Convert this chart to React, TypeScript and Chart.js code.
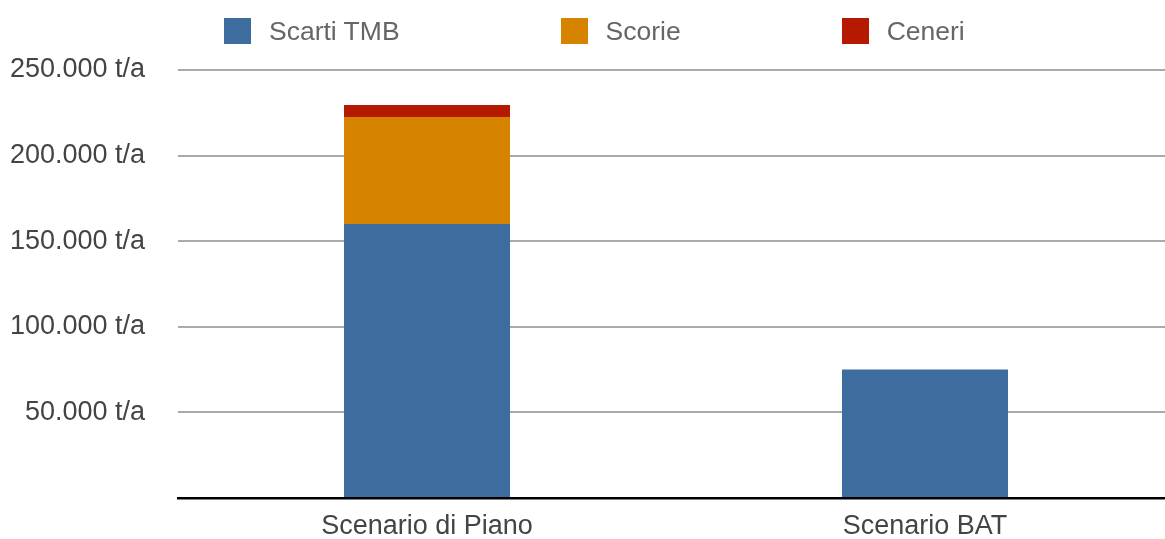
import React, { useEffect, useRef } from "react";
import { Chart, registerables } from "chart.js";

Chart.register(...registerables);

const categories = ["Scenario di Piano", "Scenario BAT"];
const seriesLabels = ["Scarti TMB", "Scorie", "Ceneri"];
const scartiTMB = [160000, 75000];
const scorie = [62500, 0];
const ceneri = [7000, 0];
const seriesColors = ["#3D6C9E", "#D68400", "#B51A00"];
const yTicks = [0, 50000, 100000, 150000, 200000, 250000];

const FONT = "'Liberation Sans', Helvetica, Arial, sans-serif";

function formatTick(v: number): string {
  if (v === 0) return "";
  const s = String(Math.round(v)).replace(/\B(?=(\d{3})+(?!\d))/g, ".");
  return s + " t/a";
}

export default function App() {
  const canvasRef = useRef<HTMLCanvasElement | null>(null);

  useEffect(() => {
    document.body.style.margin = "0";
    const canvas = canvasRef.current;
    if (!canvas) return;
    const seriesData = [scartiTMB, scorie, ceneri];
    const chart = new Chart(canvas, {
      type: "bar",
      data: {
        labels: categories,
        datasets: seriesLabels.map((label, i) => ({
          label,
          data: seriesData[i],
          backgroundColor: seriesColors[i],
          borderWidth: 0,
          categoryPercentage: 1,
          barPercentage: 0.3333,
        })),
      },
      options: {
        animation: false,
        responsive: true,
        maintainAspectRatio: false,
        layout: { padding: { top: 70, left: 0, right: 0, bottom: 0 } },
        plugins: {
          legend: { display: false },
          tooltip: { enabled: false },
        },
        scales: {
          x: {
            stacked: true,
            z: 1,
            grid: { display: false, drawTicks: false },
            border: { display: true, color: "#000000", width: 2.5 },
            ticks: {
              color: "#444444",
              font: { family: FONT, size: 27, lineHeight: 1 },
              padding: 15,
            },
            afterFit: (scale: any) => {
              scale.height = 41;
              scale.paddingLeft = 0;
              scale.paddingRight = 0;
            },
          },
          y: {
            stacked: true,
            min: yTicks[0],
            max: yTicks[yTicks.length - 1],
            afterBuildTicks: (scale: any) => {
              scale.ticks = yTicks.map((v) => ({ value: v }));
            },
            grid: {
              drawTicks: false,
              lineWidth: 2,
              color: (ctx: any) =>
                ctx.tick && ctx.tick.value === 0 ? "rgba(0,0,0,0)" : "#AAAAAA",
            },
            border: { display: false },
            ticks: {
              color: "#444444",
              font: { family: FONT, size: 27 },
              padding: 33,
              callback: (v: any) => formatTick(Number(v)),
            },
            afterFit: (scale: any) => {
              scale.width = 178;
              scale.paddingTop = 0;
              scale.paddingBottom = 0;
            },
          },
        },
      },
    });
    return () => chart.destroy();
  }, []);

  return (
    <div
      style={{
        position: "fixed",
        left: 0,
        top: 0,
        width: 1165,
        height: 539,
        overflow: "hidden",
        background: "#ffffff",
      }}
    >
      <div style={{ position: "absolute", left: 0, top: 0, width: 1174, height: 539 }}>
        <canvas ref={canvasRef} />
      </div>
      <div
        style={{
          position: "absolute",
          left: 224,
          top: 18,
          height: 26,
          display: "flex",
          alignItems: "center",
          gap: 161,
          fontFamily: FONT,
          fontSize: 26.5,
          color: "#666666",
          whiteSpace: "nowrap",
        }}
      >
        {seriesLabels.map((label, i) => (
          <div key={label} style={{ display: "flex", alignItems: "center" }}>
            <span
              style={{
                display: "inline-block",
                width: 27,
                height: 26,
                background: seriesColors[i],
                marginRight: 18,
              }}
            />
            <span style={{ lineHeight: "26px" }}>{label}</span>
          </div>
        ))}
      </div>
    </div>
  );
}
